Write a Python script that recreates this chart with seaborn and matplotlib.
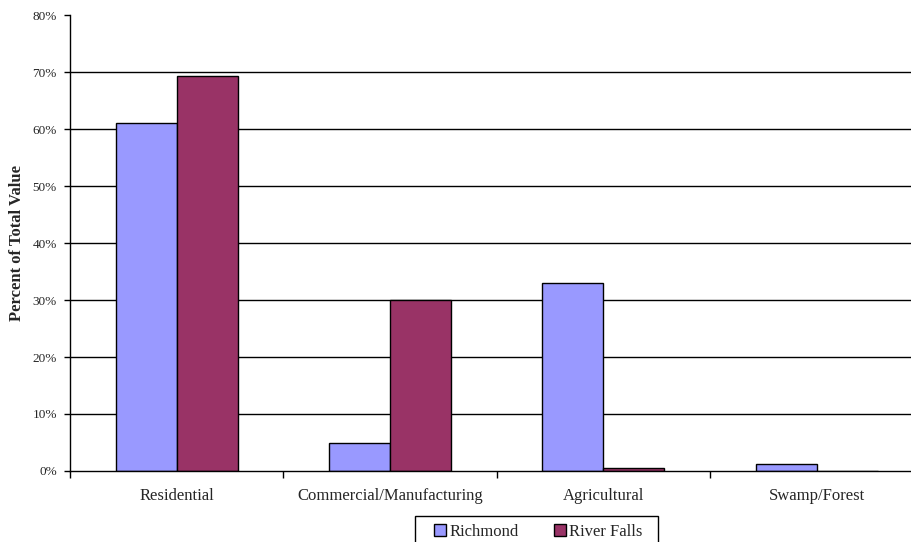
import pandas as pd
import seaborn as sns
import matplotlib.pyplot as plt
from matplotlib.patches import Rectangle
from matplotlib.ticker import FixedLocator, PercentFormatter

# Land use share of total assessed value
categories = ['Residential', 'Commercial/Manufacturing', 'Agricultural', 'Swamp/Forest']
richmond = [0.610, 0.049, 0.329, 0.012]
river_falls = [0.693, 0.300, 0.005, 0.0]
towns = ['Richmond', 'River Falls']
colors = ['#9999FF', '#993366']

df = pd.DataFrame({
    'Category': categories * 2,
    'Town': [towns[0]] * 4 + [towns[1]] * 4,
    'Value': richmond + river_falls,
})

sns.set_style('white')
plt.rcParams['font.family'] = ['Liberation Serif', 'DejaVu Serif']

fig = plt.figure(figsize=(9.12, 5.42), dpi=100)
# plot area runs a little past the right edge of the image
ax = fig.add_axes([0.0768, 0.131, 0.9357, 0.8413])

sns.barplot(data=df, x='Category', y='Value', hue='Town', palette=colors,
            width=0.572, edgecolor='black', linewidth=1.0, saturation=1,
            legend=False, ax=ax)

ax.set_ylim(0, 0.8)
ax.set_xlim(-0.5, 3.5)
ax.yaxis.set_major_locator(FixedLocator([i / 10 for i in range(9)]))
ax.yaxis.set_major_formatter(PercentFormatter(1.0, decimals=0))
for y in [i / 10 for i in range(1, 8)]:
    ax.axhline(y, color='black', linewidth=1.0, zorder=0)

for s in ['top', 'right']:
    ax.spines[s].set_visible(False)
for s in ['left', 'bottom']:
    ax.spines[s].set_color('black')
    ax.spines[s].set_linewidth(1.0)

ax.tick_params(axis='y', direction='out', length=4, width=1, color='black',
               labelsize=9.5, left=True, pad=5.5)
ax.tick_params(axis='x', which='major', length=0, labelsize=12, pad=12)
ax.xaxis.set_minor_locator(FixedLocator([-0.5, 0.5, 1.5, 2.5, 3.5]))
ax.tick_params(axis='x', which='minor', direction='out', length=5, width=1,
               color='black', bottom=True)

ax.set_xlabel('')
ax.set_ylabel('Percent of Total Value', fontsize=12, fontweight='bold', labelpad=5)

handles = [Rectangle((0, 0), 1, 1, facecolor=c, edgecolor='black', linewidth=1.0)
           for c in colors]
fig.legend(handles, towns, loc='center', bbox_to_anchor=(538.5 / 912, 1 - 532 / 542),
           ncol=2, frameon=False, fontsize=12,
           handlelength=0.72, handleheight=0.72, handletextpad=0.2,
           columnspacing=2.1, borderpad=0)
# legend box, its bottom edge falls below the image
fig.patches.append(Rectangle((415 / 912, -0.03), 243 / 912, 26 / 542 + 0.03,
                             transform=fig.transFigure, fill=False,
                             edgecolor='black', linewidth=1.0))

fig.savefig('out.png', dpi=100)
